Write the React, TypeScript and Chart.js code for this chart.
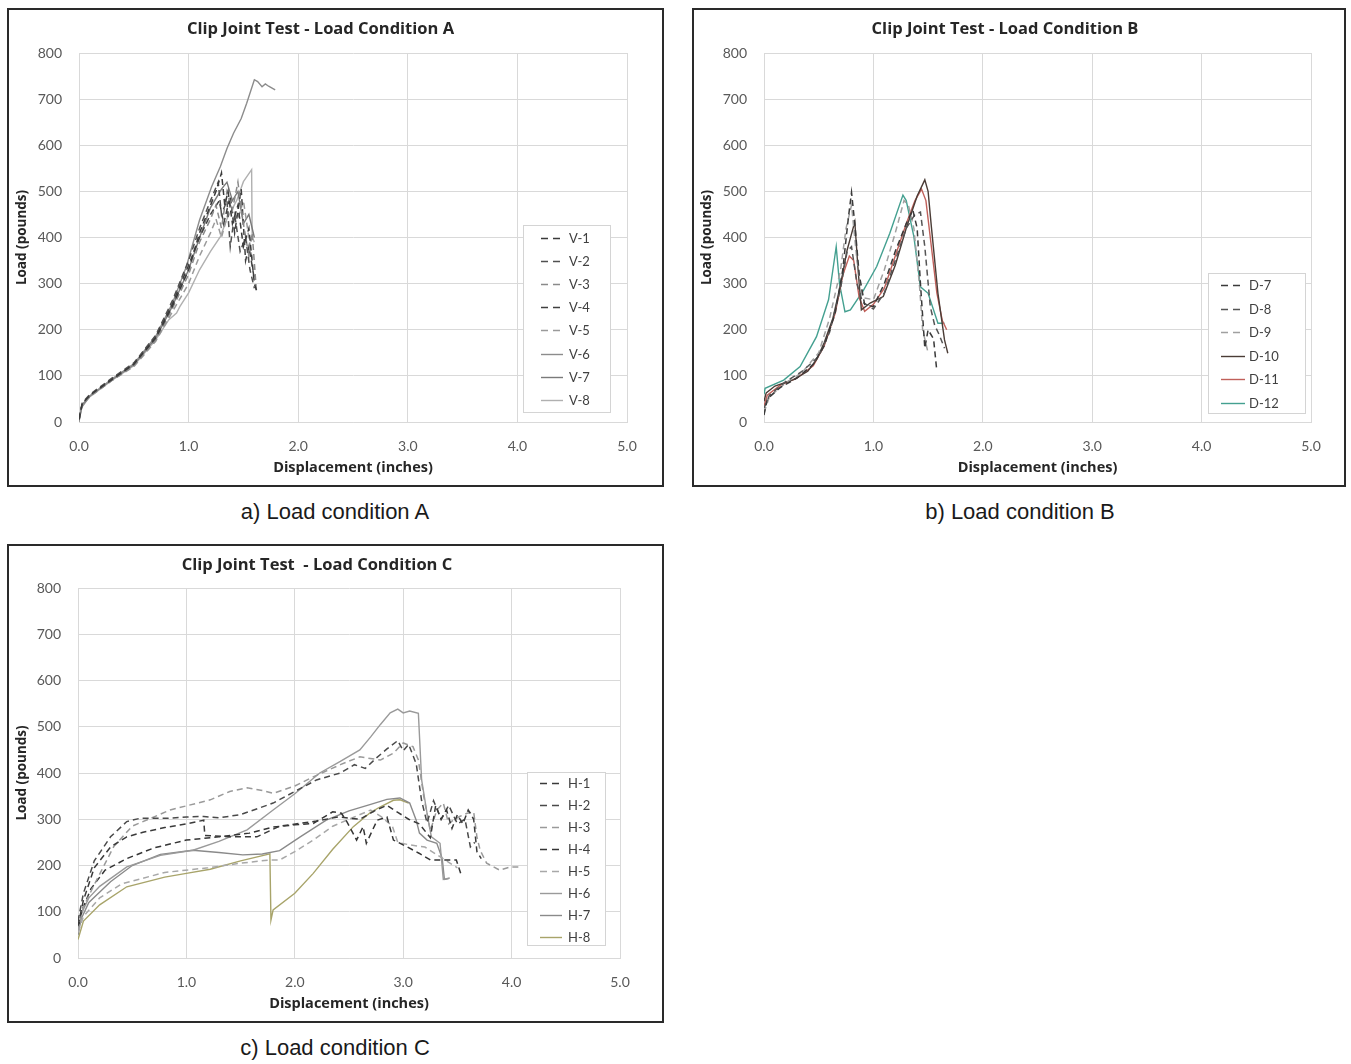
import React, { useEffect, useRef } from "react";
import { Chart, registerables } from "chart.js";

Chart.register(...registerables);

type P = [number, number];

// ---------- Load condition A ----------
const V1: P[] = [[0, 5], [0.03, 40], [0.1, 58], [0.3, 92], [0.5, 125], [0.7, 182], [0.85, 250], [1.0, 330], [1.1, 410], [1.2, 470], [1.25, 500], [1.3, 540], [1.33, 470], [1.36, 500], [1.4, 430], [1.45, 470], [1.5, 380], [1.55, 420], [1.6, 300], [1.62, 285]];
const V2: P[] = [[0, 8], [0.03, 42], [0.1, 60], [0.3, 95], [0.5, 128], [0.7, 188], [0.85, 262], [1.0, 350], [1.1, 420], [1.2, 480], [1.27, 520], [1.3, 450], [1.35, 480], [1.38, 380], [1.42, 450], [1.47, 370], [1.52, 400], [1.56, 330], [1.6, 290]];
const V3: P[] = [[0, 4], [0.03, 38], [0.1, 56], [0.3, 90], [0.5, 122], [0.7, 178], [0.85, 245], [1.0, 320], [1.1, 390], [1.2, 440], [1.25, 470], [1.3, 420], [1.35, 500], [1.4, 460], [1.45, 520], [1.5, 430], [1.55, 360], [1.58, 410], [1.62, 280]];
const V4: P[] = [[0, 6], [0.03, 40], [0.1, 57], [0.3, 93], [0.5, 126], [0.7, 185], [0.85, 255], [1.0, 340], [1.1, 400], [1.2, 450], [1.28, 480], [1.32, 430], [1.38, 490], [1.42, 410], [1.48, 505], [1.52, 350], [1.55, 380], [1.6, 310]];
const V5: P[] = [[0, 5], [0.03, 39], [0.1, 55], [0.3, 90], [0.5, 120], [0.7, 175], [0.85, 238], [1.0, 300], [1.1, 360], [1.2, 410], [1.25, 440], [1.3, 400], [1.38, 470], [1.45, 440], [1.5, 480], [1.55, 400], [1.58, 350]];
const V6: P[] = [[0, 0], [0.02, 30], [0.1, 56], [0.3, 93], [0.5, 126], [0.7, 186], [0.85, 256], [0.98, 337], [1.1, 438], [1.21, 510], [1.29, 554], [1.35, 593], [1.41, 626], [1.48, 658], [1.53, 691], [1.6, 742], [1.63, 738], [1.67, 727], [1.7, 733], [1.73, 728], [1.79, 720]];
const V7: P[] = [[0, 3], [0.03, 38], [0.1, 57], [0.3, 92], [0.5, 124], [0.7, 182], [0.85, 250], [1.0, 330], [1.1, 400], [1.2, 465], [1.3, 505], [1.35, 520], [1.4, 480], [1.45, 500], [1.5, 430], [1.55, 450], [1.6, 400]];
const V8: P[] = [[0, 2], [0.03, 36], [0.1, 55], [0.3, 90], [0.5, 122], [0.7, 178], [0.82, 222], [0.89, 236], [0.92, 250], [1.0, 280], [1.1, 330], [1.2, 370], [1.29, 402], [1.35, 440], [1.44, 481], [1.5, 521], [1.575, 547], [1.58, 400], [1.6, 390]];

// ---------- Load condition B ----------
const D7: P[] = [[0, 15], [0.03, 50], [0.15, 75], [0.3, 95], [0.45, 125], [0.55, 165], [0.65, 235], [0.72, 330], [0.77, 440], [0.8, 498], [0.83, 430], [0.87, 320], [0.92, 255], [1.0, 250], [1.1, 300], [1.2, 370], [1.3, 430], [1.36, 460], [1.4, 420], [1.43, 300], [1.47, 160], [1.5, 200], [1.55, 180], [1.58, 110]];
const D8: P[] = [[0, 30], [0.05, 58], [0.2, 88], [0.35, 110], [0.5, 142], [0.6, 195], [0.7, 290], [0.76, 370], [0.8, 380], [0.85, 300], [0.9, 260], [1.0, 245], [1.1, 280], [1.2, 350], [1.3, 420], [1.38, 450], [1.43, 455], [1.47, 380], [1.52, 250], [1.56, 210], [1.6, 190], [1.65, 160]];
const D9: P[] = [[0, 20], [0.05, 55], [0.2, 85], [0.35, 108], [0.5, 150], [0.6, 225], [0.7, 330], [0.75, 420], [0.8, 470], [0.85, 350], [0.9, 270], [1.0, 265], [1.1, 330], [1.2, 410], [1.28, 480], [1.32, 470], [1.37, 420], [1.42, 300], [1.45, 200], [1.5, 150]];
const D10: P[] = [[0, 45], [0.02, 63], [0.1, 78], [0.27, 92], [0.4, 110], [0.48, 135], [0.55, 172], [0.63, 225], [0.7, 298], [0.76, 373], [0.83, 434], [0.86, 330], [0.89, 243], [0.97, 258], [1.09, 272], [1.2, 340], [1.3, 420], [1.4, 490], [1.47, 525], [1.5, 500], [1.53, 423], [1.59, 279], [1.65, 178], [1.68, 149]];
const D11: P[] = [[0, 35], [0.03, 58], [0.15, 80], [0.3, 95], [0.45, 122], [0.55, 165], [0.65, 235], [0.72, 318], [0.78, 360], [0.82, 350], [0.87, 270], [0.92, 240], [1.0, 255], [1.1, 290], [1.2, 360], [1.3, 430], [1.38, 480], [1.44, 505], [1.48, 480], [1.53, 380], [1.58, 280], [1.63, 220], [1.67, 200]];
const D12: P[] = [[0, 60], [0.01, 73], [0.18, 91], [0.33, 120], [0.48, 185], [0.59, 265], [0.66, 380], [0.69, 300], [0.74, 239], [0.79, 243], [0.91, 286], [1.03, 337], [1.15, 409], [1.27, 492], [1.3, 480], [1.37, 402], [1.43, 293], [1.5, 279], [1.59, 214], [1.65, 214]];

// ---------- Load condition C ----------
const H1: P[] = [[0, 70], [0.05, 125], [0.15, 195], [0.3, 240], [0.45, 262], [0.6, 272], [0.8, 282], [1.0, 290], [1.16, 298], [1.17, 265], [1.4, 262], [1.65, 262], [1.86, 285], [2.2, 296], [2.4, 305], [2.6, 300], [2.75, 320], [2.85, 330], [2.95, 315], [3.05, 300], [3.15, 290], [3.25, 260], [3.3, 330], [3.35, 300], [3.4, 320], [3.45, 280], [3.5, 310], [3.55, 290], [3.6, 320], [3.65, 300], [3.68, 230], [3.72, 215]];
const H2: P[] = [[0, 80], [0.05, 140], [0.15, 210], [0.3, 262], [0.45, 295], [0.57, 302], [0.82, 302], [1.0, 305], [1.16, 306], [1.3, 303], [1.5, 310], [1.8, 335], [2.0, 360], [2.2, 385], [2.42, 400], [2.55, 418], [2.65, 410], [2.75, 432], [2.85, 452], [2.95, 470], [3.0, 448], [3.05, 462], [3.12, 420], [3.17, 340], [3.22, 292], [3.28, 340], [3.35, 300], [3.42, 330], [3.5, 290], [3.57, 300], [3.62, 240], [3.66, 250]];
const H3: P[] = [[0, 60], [0.05, 110], [0.14, 154], [0.33, 241], [0.5, 285], [0.85, 320], [1.22, 342], [1.4, 360], [1.56, 368], [1.7, 362], [1.8, 356], [2.0, 372], [2.2, 395], [2.42, 418], [2.6, 435], [2.79, 428], [2.91, 443], [3.0, 465], [3.09, 457], [3.14, 428], [3.19, 349], [3.25, 275], [3.31, 320], [3.37, 335], [3.42, 290], [3.46, 298], [3.52, 306], [3.59, 313], [3.65, 316], [3.68, 262], [3.71, 233], [3.77, 205], [3.89, 190], [3.99, 197], [4.08, 197]];
const H4: P[] = [[0, 65], [0.04, 105], [0.12, 150], [0.25, 190], [0.45, 215], [0.7, 238], [1.0, 255], [1.3, 262], [1.58, 270], [1.8, 283], [2.0, 288], [2.17, 291], [2.35, 316], [2.43, 313], [2.48, 295], [2.57, 255], [2.63, 284], [2.66, 248], [2.76, 298], [2.85, 305], [2.91, 255], [3.03, 241], [3.15, 226], [3.25, 212], [3.49, 212], [3.54, 176]];
const H5: P[] = [[0, 55], [0.05, 90], [0.2, 130], [0.4, 160], [0.8, 185], [1.2, 195], [1.5, 205], [1.77, 212], [1.86, 212], [2.0, 230], [2.17, 255], [2.35, 285], [2.55, 305], [2.7, 320], [2.8, 305], [2.9, 285], [2.95, 250], [3.05, 245], [3.2, 240], [3.3, 225], [3.4, 210], [3.5, 195]];
const H6: P[] = [[0, 55], [0.03, 95], [0.1, 130], [0.2, 155], [0.45, 197], [0.76, 222], [1.06, 233], [1.3, 252], [1.56, 277], [1.8, 320], [2.0, 355], [2.23, 400], [2.42, 425], [2.6, 450], [2.7, 478], [2.79, 505], [2.88, 530], [2.95, 538], [3.0, 530], [3.06, 534], [3.14, 529], [3.17, 385], [3.22, 313], [3.26, 262], [3.34, 248], [3.37, 170], [3.43, 173]];
const H7: P[] = [[0, 50], [0.03, 85], [0.1, 120], [0.3, 165], [0.5, 200], [0.76, 224], [1.06, 233], [1.3, 228], [1.52, 223], [1.7, 225], [1.86, 232], [2.05, 262], [2.29, 298], [2.5, 318], [2.7, 332], [2.85, 343], [2.97, 346], [3.06, 335], [3.12, 298], [3.15, 270], [3.22, 255], [3.31, 248], [3.36, 215], [3.38, 170], [3.42, 172]];
const H8: P[] = [[0, 40], [0.05, 80], [0.2, 115], [0.45, 154], [0.8, 175], [1.0, 183], [1.22, 192], [1.5, 210], [1.77, 225], [1.78, 82], [1.8, 104], [2.0, 140], [2.17, 183], [2.35, 235], [2.54, 284], [2.7, 315], [2.79, 327], [2.91, 341], [2.97, 342], [3.05, 335]];

const X_TICKS = [0, 1, 2, 3, 4, 5];
const Y_MAX = 800;

type S = { label: string; pts: P[]; color: string; dash: boolean };

const SERIES_A: S[] = [
  { label: "V-1", pts: V1, color: "#3a3a3a", dash: true },
  { label: "V-2", pts: V2, color: "#505050", dash: true },
  { label: "V-3", pts: V3, color: "#8a8a8a", dash: true },
  { label: "V-4", pts: V4, color: "#404040", dash: true },
  { label: "V-5", pts: V5, color: "#9a9a9a", dash: true },
  { label: "V-6", pts: V6, color: "#8c8c8c", dash: false },
  { label: "V-7", pts: V7, color: "#7a7a7a", dash: false },
  { label: "V-8", pts: V8, color: "#b0b0b0", dash: false },
];
const SERIES_B: S[] = [
  { label: "D-7", pts: D7, color: "#3a3a3a", dash: true },
  { label: "D-8", pts: D8, color: "#555555", dash: true },
  { label: "D-9", pts: D9, color: "#a0a0a0", dash: true },
  { label: "D-10", pts: D10, color: "#4a3c36", dash: false },
  { label: "D-11", pts: D11, color: "#c0605a", dash: false },
  { label: "D-12", pts: D12, color: "#44a090", dash: false },
];
const SERIES_C: S[] = [
  { label: "H-1", pts: H1, color: "#3a3a3a", dash: true },
  { label: "H-2", pts: H2, color: "#4a4a4a", dash: true },
  { label: "H-3", pts: H3, color: "#9a9a9a", dash: true },
  { label: "H-4", pts: H4, color: "#353535", dash: true },
  { label: "H-5", pts: H5, color: "#a8a8a8", dash: true },
  { label: "H-6", pts: H6, color: "#9a9a9a", dash: false },
  { label: "H-7", pts: H7, color: "#8a8a8a", dash: false },
  { label: "H-8", pts: H8, color: "#a8a46a", dash: false },
];

const FONT = 'Lato, "Open Sans", sans-serif';
const TFONT = '"Open Sans", Lato, sans-serif';

const insideLegend = {
  id: "insideLegend",
  afterDatasetsDraw(chart: any, _a: any, opts: any) {
    const b = opts && opts.box;
    if (!b) return;
    const ctx = chart.ctx;
    ctx.save();
    ctx.fillStyle = "#ffffff";
    ctx.fillRect(b.x, b.y, b.w, b.h);
    ctx.strokeStyle = "#d4d4d4";
    ctx.lineWidth = 1;
    ctx.strokeRect(b.x + 0.5, b.y + 0.5, b.w, b.h);
    chart.data.datasets.forEach((ds: any, i: number) => {
      const cy = Math.round(b.y + b.first + i * b.row) + 0.5;
      const dashed = ds.borderDash && ds.borderDash.length > 0;
      ctx.strokeStyle = ds.borderColor;
      ctx.lineWidth = 1.4;
      ctx.setLineDash(dashed ? [7, 5] : []);
      ctx.beginPath();
      ctx.moveTo(b.x + b.lx0, cy);
      ctx.lineTo(b.x + b.lx1, cy);
      ctx.stroke();
      ctx.setLineDash([]);
      ctx.fillStyle = "#404040";
      ctx.font = `13px ${FONT}`;
      ctx.textBaseline = "middle";
      ctx.textAlign = "left";
      ctx.fillText(ds.label, b.x + b.tx, cy);
    });
    ctx.restore();
  },
};

type Cfg = {
  title: string;
  series: S[];
  w: number;
  h: number;
  padL: number;
  padR: number;
  yw: number;
  tPadB: number;
  legend: any;
};

function ChartBox({ cfg, left, top, bw, bh }: { cfg: Cfg; left: number; top: number; bw: number; bh: number }) {
  const ref = useRef<HTMLCanvasElement | null>(null);
  useEffect(() => {
    if (!ref.current) return;
    const grid = "#d9d9d9";
    const chart = new Chart(ref.current, {
      type: "line",
      data: {
        datasets: cfg.series.map((s) => ({
          label: s.label,
          data: s.pts.map(([x, y]) => ({ x, y })),
          borderColor: s.color,
          backgroundColor: s.color,
          borderWidth: s.dash ? 1.5 : 1.4,
          borderDash: s.dash ? [6, 4] : [],
          pointRadius: 0,
          tension: 0,
          fill: false,
        })),
      },
      options: {
        animation: false,
        responsive: false,
        layout: { padding: { left: cfg.padL, right: cfg.padR, top: 0, bottom: 8 } },
        plugins: {
          legend: { display: false },
          tooltip: { enabled: false },
          title: {
            display: true,
            text: cfg.title,
            color: "#262626",
            font: { family: TFONT, size: 16.5, weight: "bold", lineHeight: 1.2 },
            padding: { top: 9, bottom: cfg.tPadB },
          },
          insideLegend: { box: cfg.legend },
        } as any,
        scales: {
          x: {
            type: "linear",
            min: 0,
            max: 5,
            afterBuildTicks: (s: any) => {
              s.ticks = X_TICKS.map((v) => ({ value: v }));
            },
            afterFit: (s: any) => {
              s.height = 55;
            },
            grid: { color: grid, drawTicks: false, lineWidth: 1 },
            border: { color: grid },
            ticks: {
              color: "#595959",
              padding: 16,
              font: { family: FONT, size: 14 },
              callback: (v: any) => Number(v).toFixed(1),
            },
            title: {
              display: true,
              text: "Displacement (inches)",
              color: "#262626",
              padding: 0,
              font: { family: TFONT, size: 14.5, weight: "bold", lineHeight: 1.2 },
            },
          },
          y: {
            min: 0,
            max: Y_MAX,
            afterFit: (s: any) => {
              s.width = cfg.yw;
            },
            grid: { color: grid, drawTicks: false, lineWidth: 1 },
            border: { color: grid },
            ticks: {
              stepSize: 100,
              color: "#595959",
              padding: 17,
              font: { family: FONT, size: 14 },
            },
            title: {
              display: true,
              text: "Load (pounds)",
              color: "#262626",
              padding: 0,
              font: { family: TFONT, size: 13.5, weight: "bold", lineHeight: 1.2 },
            },
          },
        },
      } as any,
      plugins: [insideLegend],
    });
    return () => chart.destroy();
  }, [cfg]);
  return (
    <div
      style={{
        position: "absolute",
        left,
        top,
        width: bw,
        height: bh,
        boxSizing: "border-box",
        border: "2px solid #2a2a2a",
        background: "#fff",
      }}
    >
      <canvas ref={ref} width={cfg.w} height={cfg.h} style={{ display: "block" }} />
    </div>
  );
}

const CFG_A: Cfg = {
  title: "Clip Joint Test - Load Condition A",
  series: SERIES_A,
  w: 653,
  h: 475,
  padL: 5,
  padR: 35,
  yw: 65,
  tPadB: 14.2,
  legend: { x: 514, y: 215, w: 87, h: 187, first: 13, row: 23.1, lx0: 18, lx1: 40, tx: 46 },
};
const CFG_B: Cfg = {
  title: "Clip Joint Test - Load Condition B",
  series: SERIES_B,
  w: 650,
  h: 475,
  padL: 5,
  padR: 33,
  yw: 65,
  tPadB: 14.2,
  legend: { x: 514, y: 263, w: 97, h: 140, first: 12, row: 23.6, lx0: 13, lx1: 37, tx: 41 },
};
const CFG_C: Cfg = {
  title: "Clip Joint Test  - Load Condition C",
  series: SERIES_C,
  w: 653,
  h: 475,
  padL: 5,
  padR: 42,
  yw: 64,
  tPadB: 13.2,
  legend: { x: 518, y: 226, w: 78, h: 173, first: 11, row: 22, lx0: 13, lx1: 35, tx: 41 },
};

const capStyle = (left: number, top: number): React.CSSProperties => ({
  position: "absolute",
  left,
  top,
  width: 400,
  textAlign: "center",
  fontFamily: '"Liberation Sans", Arial, sans-serif',
  fontSize: 22,
  lineHeight: "26px",
  color: "#1a1a1a",
});

export default function App() {
  return (
    <div style={{ position: "absolute", left: 0, top: 0, width: 1351, height: 1064, background: "#fff" }}>
      <ChartBox cfg={CFG_A} left={7} top={8} bw={657} bh={479} />
      <ChartBox cfg={CFG_B} left={692} top={8} bw={654} bh={479} />
      <ChartBox cfg={CFG_C} left={7} top={544} bw={657} bh={479} />
      <div style={capStyle(135, 499)}>a) Load condition A</div>
      <div style={capStyle(820, 499)}>b) Load condition B</div>
      <div style={capStyle(135, 1035)}>c) Load condition C</div>
    </div>
  );
}
